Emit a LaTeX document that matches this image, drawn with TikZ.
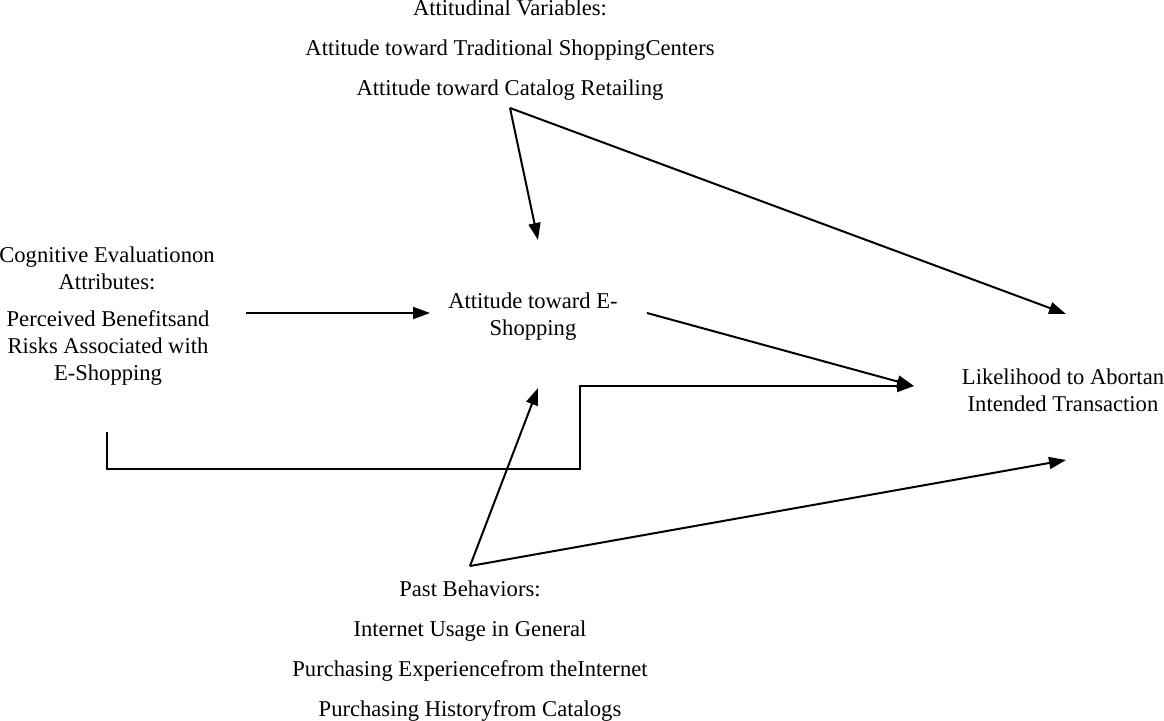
\documentclass[tikz,border=0pt]{standalone}
\usepackage{fontspec}
\setmainfont{Liberation Serif}
\usetikzlibrary{arrows.meta, positioning}
\tikzstyle{arrow} = [line width=2pt,-{Triangle[length=17pt,width=12pt]}]
\tikzstyle{varbox} = [align=center, inner sep=0pt, font=\fontsize{22.6}{27}\selectfont]

\begin{document}
\begin{tikzpicture}[x=1pt, y=-1pt]
    \useasboundingbox (0,0) rectangle (1164,720);
    % variables
    \node[varbox] (attvar) at (510,50) {Attitudinal Variables:\\[13pt]
        Attitude toward Traditional ShoppingCenters\\[13pt]
        Attitude toward Catalog Retailing};
    \node[varbox] (cogvar) at (107,268) {Cognitive Evaluationon\\Attributes:};
    \node[varbox] (benrisk) at (108,348) {Perceived Benefitsand\\Risks Associated with\\E-Shopping};
    \node[varbox] (eshop) at (533,317) {Attitude toward E-\\Shopping};
    \node[varbox] (abort) at (1063,390) {Likelihood to Abortan\\Intended Transaction};
    \node[varbox] (pastbeh) at (470,651) {Past Behaviors:\\[13pt]
        Internet Usage in General\\[13pt]
        Purchasing Experiencefrom theInternet\\[13pt]
        Purchasing Historyfrom Catalogs};
    % arrow ends
    \coordinate (attsrc) at (510,108);
    \coordinate (pastsrc) at (470,566);
    \coordinate (eshopin) at (538,240);
    \coordinate (eshopbot) at (538,388);
    \coordinate (eshopleft) at (430,313);
    \coordinate (cogsrc) at (246,313);
    \coordinate (eshopout) at (647,313);
    \coordinate (aborttop) at (1066,314);
    \coordinate (abortleft) at (914,386);
    \coordinate (abortbot) at (1066,460);
    \coordinate (bensrc) at (107,432);
    % links
    \draw[arrow] (attsrc) -- (eshopin);
    \draw[arrow] (attsrc) -- (aborttop);
    \draw[arrow] (cogsrc) -- (eshopleft);
    \draw[arrow] (eshopout) -- (abortleft);
    \draw[arrow] (bensrc) |- (580,469) |- (abortleft);
    \draw[arrow] (pastsrc) -- (eshopbot);
    \draw[arrow] (pastsrc) -- (abortbot);
\end{tikzpicture}
\end{document}
